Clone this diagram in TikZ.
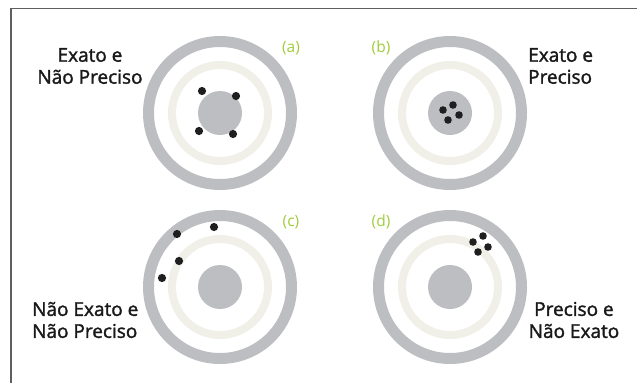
\documentclass[tikz,border=0pt]{standalone}
\usepackage{fontspec}
\setmainfont{Open Sans}
\newfontfamily\medfont[FakeBold=1.6]{Open Sans}
\usetikzlibrary{positioning}
\definecolor{ringgray}{RGB}{189,190,193}
\definecolor{ringlight}{RGB}{240,240,232}
\definecolor{casegreen}{RGB}{160,204,58}
\definecolor{framegray}{RGB}{95,95,95}
\tikzset{
    outer ring/.style={draw=ringgray, line width=11pt},
    inner ring/.style={draw=ringlight, line width=8pt},
    bull/.style={fill=ringgray},
    hit/.style={circle, fill=black!88, inner sep=0pt, minimum size=8.2pt},
    case label/.style={text=casegreen, font=\fontsize{15.5}{17}\selectfont, inner sep=0pt},
    target text/.style={font=\medfont\fontsize{19}{22}\selectfont, inner sep=0pt, text=black!90}
}
\begin{document}
\begin{tikzpicture}[x=1pt,y=-1pt]
	\useasboundingbox (0,0) rectangle (637,383);
	\draw[framegray, line width=1.8pt] (11,383) -- (11,8.5) -- (637,8.5);
	% the four targets
	\coordinate (ta) at (220,113);
	\coordinate (tb) at (450,113);
	\coordinate (tc) at (220,287);
	\coordinate (td) at (450,287);
	\foreach \t in {ta,tb,tc,td}{
		\draw[outer ring] (\t) circle (71.5);
		\draw[inner ring] (\t) circle (48);
		\fill[bull] (\t) circle (22);
	}
	% hits
	\begin{scope}[every node/.style={hit}]
		\node (a1) at (202,91) {};
		\node (a2) at (236,96) {};
		\node (a3) at (199,131) {};
		\node (a4) at (233,134) {};
		\node[minimum size=7.6pt] (b1) at (443,110) {};
		\node[minimum size=7.6pt] (b2) at (453,105) {};
		\node[minimum size=7.6pt] (b3) at (459,115) {};
		\node[minimum size=7.6pt] (b4) at (448,120) {};
		\node (c1) at (177,234) {};
		\node (c2) at (214,227) {};
		\node (c3) at (179,261) {};
		\node (c4) at (162,278) {};
		\node[minimum size=7.6pt] (d1) at (473,242) {};
		\node[minimum size=7.6pt] (d2) at (483,236) {};
		\node[minimum size=7.6pt] (d3) at (488,247) {};
		\node[minimum size=7.6pt] (d4) at (478,252) {};
	\end{scope}
	% case letters
	\node[case label] (la) at (291,48) {(a)};
	\node[case label] (lb) at (381,48) {(b)};
	\node[case label] (lc) at (291,222) {(c)};
	\node[case label] (ld) at (381,222) {(d)};
	% descriptions
	\node[target text, align=center] (xa) at (90,66) {Exato e\\Não Preciso};
	\node[target text, align=left, anchor=west] (xb) at (528,66) {Exato e\\Preciso};
	\node[target text, align=left, anchor=west] (xc) at (32,320) {Não Exato e\\Não Preciso};
	\node[target text, align=center] (xd) at (574,320) {Preciso e\\Não Exato};
\end{tikzpicture}
\end{document}
